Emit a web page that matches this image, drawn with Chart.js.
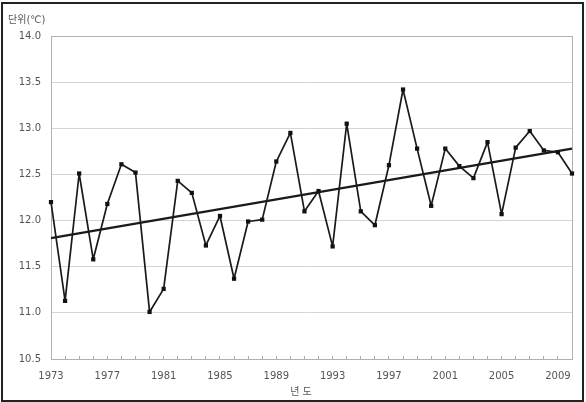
<!DOCTYPE html>
<html>
<head>
<meta charset="utf-8">
<script src="https://cdn.jsdelivr.net/npm/chart.js@4.4.1/dist/chart.umd.min.js"></script>
<style>
  html, body { margin: 0; padding: 0; background: #fff; }
  #wrap { width: 586px; height: 402px; }
</style>
</head>
<body>
<div id="wrap"><canvas id="tempChart" width="586" height="402"></canvas></div>
<script>
// annual mean temperature
const years = [];
for (let y = 1973; y <= 2010; y++) years.push(String(y));

const temps = [
  12.20, 11.13, 12.51, 11.58, 12.18, 12.61, 12.52, 11.01, 11.26, 12.43,
  12.30, 11.73, 12.05, 11.37, 11.99, 12.01, 12.64, 12.95, 12.10, 12.32,
  11.72, 13.05, 12.10, 11.95, 12.60, 13.42, 12.78, 12.16, 12.78, 12.59,
  12.46, 12.85, 12.07, 12.79, 12.97, 12.76, 12.74, 12.51
];

// trend line end points
const trendStart = 11.81;
const trendEnd = 12.78;
const trend = years.map((y, i) => i === 0 ? trendStart : (i === years.length - 1 ? trendEnd : null));

const yTicks = [10.5, 11.0, 11.5, 12.0, 12.5, 13.0, 13.5, 14.0];
const yTitle = '단위(℃)';
const xTitle = '년 도';

const FONT = "'DejaVu Sans', 'Noto Sans CJK KR', sans-serif";
const TEXT = '#555';

// frame, plot box and axis titles
const decor = {
  id: 'decor',
  beforeDatasetsDraw(chart) {
    const { ctx, chartArea: a } = chart;
    ctx.save();
    ctx.strokeStyle = '#b0b0b0';
    ctx.lineWidth = 1;
    ctx.strokeRect(a.left + 0.5, a.top + 0.5, a.right - a.left, a.bottom - a.top);
    ctx.restore();
  },
  afterDraw(chart) {
    const ctx = chart.ctx;
    ctx.save();
    ctx.strokeStyle = '#222';
    ctx.lineWidth = 2;
    ctx.strokeRect(2, 3, 581, 398);
    ctx.fillStyle = TEXT;
    ctx.font = '10px ' + FONT;
    ctx.textBaseline = 'middle';
    ctx.textAlign = 'left';
    ctx.fillText(yTitle, 8, 20);
    ctx.textAlign = 'center';
    ctx.fillText(xTitle, 301, 392);
    ctx.restore();
  }
};

new Chart(document.getElementById('tempChart').getContext('2d'), {
  type: 'line',
  data: {
    labels: years,
    datasets: [
      {
        label: 'temp',
        data: temps,
        borderColor: '#1a1a1a',
        borderWidth: 1.7,
        borderJoinStyle: 'round',
        pointStyle: 'rect',
        pointRadius: 3,
        pointBackgroundColor: '#111',
        pointBorderWidth: 0,
        tension: 0
      },
      {
        label: 'trend',
        data: trend,
        spanGaps: true,
        borderColor: '#1a1a1a',
        borderWidth: 2.3,
        pointRadius: 0
      }
    ]
  },
  options: {
    responsive: false,
    animation: false,
    layout: { padding: { left: 8, right: 13, top: 36, bottom: 0 } },
    plugins: {
      legend: { display: false },
      tooltip: { enabled: false }
    },
    scales: {
      x: {
        offset: false,
        grid: { drawOnChartArea: false, drawTicks: true, tickLength: -3, color: '#aaa' },
        border: { display: false },
        ticks: {
          autoSkip: false,
          maxRotation: 0,
          padding: 14,
          color: TEXT,
          font: { family: FONT, size: 10 },
          callback: (v, i) => (i % 4 === 0 ? years[i] : '')
        },
        afterFit: s => { s.height = 43; }
      },
      y: {
        min: yTicks[0],
        max: yTicks[yTicks.length - 1],
        afterBuildTicks: s => { s.ticks = yTicks.map(v => ({ value: v })); },
        grid: { color: '#d4d4d4', drawTicks: false },
        border: { display: false },
        ticks: {
          padding: 10,
          color: TEXT,
          font: { family: FONT, size: 10 },
          callback: v => v.toFixed(1)
        },
        afterFit: s => { s.width = 43; }
      }
    }
  },
  plugins: [decor]
});
</script>
</body>
</html>
